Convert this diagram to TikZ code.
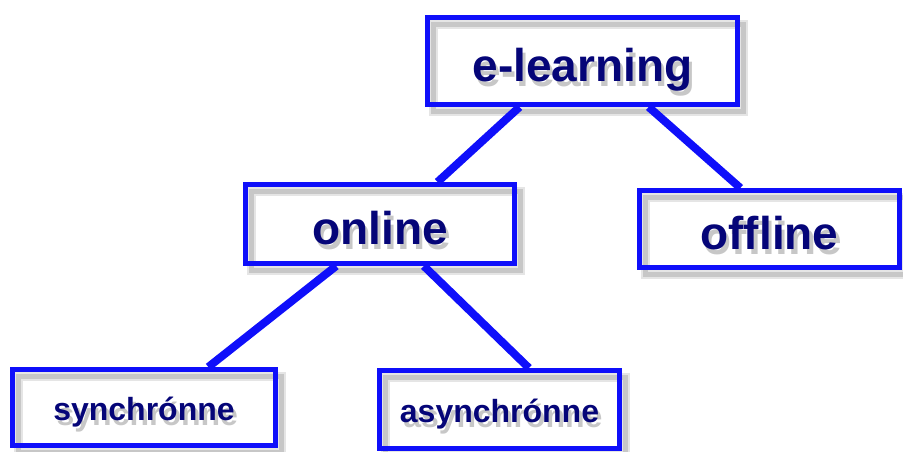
\documentclass[tikz,border=0pt]{standalone}
\usepackage{fontspec}
\setmainfont{Liberation Sans}
\usetikzlibrary{calc}
\definecolor{boxblue}{RGB}{15,15,250}
\definecolor{navytext}{RGB}{5,5,120}
\newcommand\shadowed[1]{\rlap{\kern2.5pt\raisebox{-3.5pt}{\textcolor{black!22}{#1}}}#1}
\tikzset{
  box/.style={draw=boxblue,line width=3.75pt,text=navytext,text depth=0pt,
    preaction={draw=black!10,line width=7pt,transform canvas={xshift=4.5pt,yshift=-5.25pt}},
    preaction={draw=black!22,line width=3.5pt,transform canvas={xshift=4.5pt,yshift=-5.25pt}}},
  bigbox/.style={box,font=\fontsize{34.5}{40}\selectfont\bfseries,text height=31.5pt},
  smallbox/.style={box,font=\fontsize{24}{28}\selectfont\bfseries,text height=19.5pt},
  link/.style={draw=boxblue,line width=6pt}
}
\begin{document}
\begin{tikzpicture}[x=0.75pt,y=-0.75pt]
\useasboundingbox (0,0) rectangle (903,452);
\node[bigbox,minimum width=232.5pt,minimum height=65.25pt] (elearn) at (582.5,61) {\shadowed{e-learning}};
\node[bigbox,minimum width=201.75pt,minimum height=59.25pt] (online) at (380,224) {\shadowed{online}};
\node[bigbox,minimum width=195pt,minimum height=57.75pt] (offline) at (769.5,229) {\shadowed{offline}};
\node[smallbox,minimum width=197.25pt,minimum height=57pt] (synch) at (144,407.5) {\shadowed{synchrónne}};
\node[smallbox,minimum width=180pt,minimum height=58.5pt] (asynch) at (499.5,409.5) {\shadowed{asynchrónne}};
\draw[link] ($(elearn.south west)!.30!(elearn.south east)$)--($(online.north west)!.71!(online.north east)$);
\draw[link] ($(elearn.south west)!.71!(elearn.south east)$)--($(offline.north west)!.39!(offline.north east)$);
\draw[link] ($(online.south west)!.34!(online.south east)$)--($(synch.north west)!.74!(synch.north east)$);
\draw[link] ($(online.south west)!.66!(online.south east)$)--($(asynch.north west)!.62!(asynch.north east)$);
\end{tikzpicture}
\end{document}
